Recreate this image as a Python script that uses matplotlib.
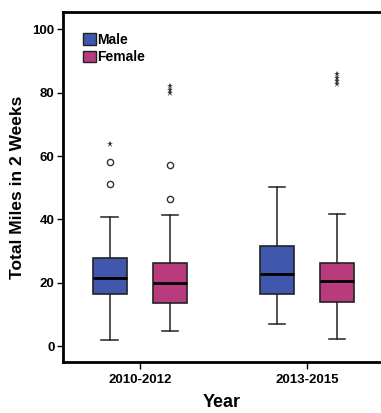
import matplotlib
matplotlib.use("Agg")
import matplotlib.pyplot as plt
from matplotlib.patches import Patch

plt.rcParams['font.family'] = ['Liberation Sans', 'DejaVu Sans']

years = ['2010-2012', '2013-2015']
groups = ['Male', 'Female']
colors = ['#3F58AE', '#B83C7D']

# whislo, q1, median, q3, whishi for each year/group
male_stats = [[1.9, 16.6, 21.4, 27.7, 40.8], [6.9, 16.6, 22.9, 31.6, 50.1]]
female_stats = [[4.7, 13.5, 20.0, 26.3, 41.4], [2.2, 13.8, 20.6, 26.1, 41.6]]
# outliers: circles (mild) and stars (extreme)
male_circles = [[58.1, 51.1], []]
male_stars = [[63.7], []]
female_circles = [[57.3, 46.3], []]
female_stars = [[82.2, 81.0, 79.9], [85.8, 84.8, 83.8, 82.8]]

fig = plt.figure(figsize=(3.81, 4.13), dpi=100)
ax = fig.add_axes([0.165, 0.1235, 0.835, 0.8475])

offset = 0.18
width = 0.2
all_stats = [male_stats, female_stats]
all_circles = [male_circles, female_circles]
all_stars = [male_stars, female_stars]

for g in range(2):
    sign = -1 if g == 0 else 1
    for i in range(len(years)):
        lo, q1, med, q3, hi = all_stats[g][i]
        st = dict(whislo=lo, q1=q1, med=med, q3=q3, whishi=hi, fliers=[])
        pos = i + sign * offset
        ax.bxp([st], positions=[pos], widths=width, patch_artist=True,
               showfliers=False, capwidths=0.1,
               boxprops=dict(facecolor=colors[g], edgecolor='#222222', linewidth=1.2),
               medianprops=dict(color='black', linewidth=2),
               whiskerprops=dict(color='#222222', linewidth=1.1),
               capprops=dict(color='#222222', linewidth=1.1))
        c = all_circles[g][i]
        ax.plot([pos] * len(c), c, 'o', mfc='white', mec='#333333', ms=4.5, mew=1)
        s = all_stars[g][i]
        ax.plot([pos] * len(s), s, '*', color='#333333', ms=5, mew=0)

ax.set_xlim(-0.461, 1.443)
ax.set_ylim(-5.0, 105.5)
ax.set_xticks(range(len(years)))
ax.set_xticklabels(years, fontsize=9.5, fontweight='bold')
ax.set_yticks([0, 20, 40, 60, 80, 100])
ax.tick_params(axis='y', labelsize=9.5, length=4, width=1, pad=2)
ax.tick_params(axis='x', length=5, width=1)
for t in ax.get_yticklabels():
    t.set_fontweight('bold')
ax.set_xlabel('Year', fontsize=13, fontweight='bold', labelpad=6)
ax.set_ylabel('Total Miles in 2 Weeks', fontsize=12.5, fontweight='bold', labelpad=5)

for sp in ['left', 'bottom', 'top']:
    ax.spines[sp].set_linewidth(2)
ax.spines['right'].set_visible(False)

handles = [Patch(facecolor=colors[k], edgecolor='#222222', label=groups[k]) for k in range(2)]
leg = ax.legend(handles=handles, loc='upper left', frameon=False,
                prop=dict(weight='bold', size=10), handlelength=0.9, handleheight=0.9,
                handletextpad=0.1, labelspacing=0.25, borderaxespad=0.6,
                bbox_to_anchor=(0.02, 0.98))

fig.savefig('out.png', dpi=100)
